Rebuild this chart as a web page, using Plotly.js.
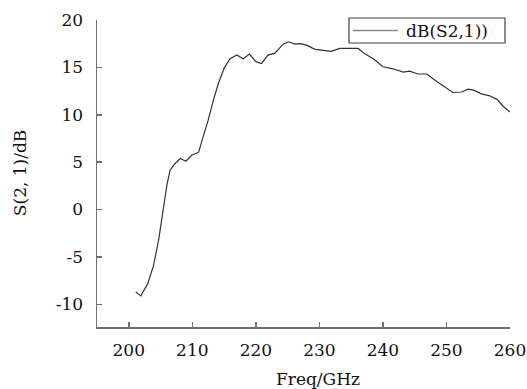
<!DOCTYPE html>
<html>
<head>
<meta charset="utf-8">
<script src="https://cdn.plot.ly/plotly-3.0.1.min.js"></script>
<style>
html,body{margin:0;padding:0;background:#fff;}
#chart{width:527px;height:389px;}
</style>
</head>
<body>
<div id="chart"></div>
<script>
const freq = [201.1, 201.9, 203.0, 203.9, 204.7, 205.3, 206.0, 206.5, 207.2, 208.1, 209.0, 209.9, 211.0, 211.7, 212.5, 213.3, 214.1, 215.0, 215.9, 217.0, 218.0, 219.0, 220.0, 220.9, 221.9, 223.0, 224.3, 225.2, 226.1, 227.0, 228.0, 229.3, 230.6, 231.9, 233.2, 234.8, 236.1, 237.2, 238.5, 240.0, 241.6, 243.2, 244.2, 245.5, 246.9, 248.2, 249.7, 251.0, 252.4, 253.4, 254.3, 255.5, 256.8, 258.0, 258.9, 260.0];
const s21 = [-8.7, -9.12, -7.8, -5.9, -3.24, -0.4, 2.57, 4.15, 4.78, 5.38, 5.1, 5.73, 6.05, 7.67, 9.43, 11.5, 13.3, 14.9, 15.9, 16.3, 15.9, 16.4, 15.6, 15.4, 16.3, 16.5, 17.45, 17.7, 17.45, 17.5, 17.35, 16.9, 16.8, 16.7, 17.0, 17.0, 17.0, 16.4, 15.9, 15.06, 14.85, 14.5, 14.6, 14.3, 14.3, 13.65, 12.9, 12.35, 12.4, 12.7, 12.6, 12.2, 12.0, 11.6, 10.9, 10.3];
const xTicks = [200, 210, 220, 230, 240, 250, 260];
const yTicks = [-10, -5, 0, 5, 10, 15, 20];
const yTickText = ["-10", "-5", "0", "5", "10", "15", "20"];
const seriesName = "dB(S2,1))";
const xTitle = "Freq/GHz";
const yTitle = "S(2, 1)/dB";

const font = "DejaVu Serif";
const axisColor = "#707070";

const trace = {
  x: freq, y: s21, type: "scatter", mode: "lines",
  line: {color: "#333333", width: 1.2},
  name: seriesName, showlegend: false, hoverinfo: "skip"
};

const layout = {
  width: 527, height: 389,
  margin: {l: 97, r: 17, t: 20, b: 62, pad: 0},
  paper_bgcolor: "#ffffff", plot_bgcolor: "#ffffff",
  font: {family: font, size: 17, color: "#111"},
  xaxis: {
    range: [195, 260], tickvals: xTicks, ticks: "inside", ticklen: 5,
    tickcolor: axisColor, tickwidth: 1.5, showline: true, linecolor: axisColor, linewidth: 1.5,
    showgrid: false, zeroline: false, ticklabelstandoff: 7,
    tickfont: {family: font, size: 17, color: "#111"}
  },
  yaxis: {
    range: [-12.4, 20], tickvals: yTicks, ticktext: yTickText, ticks: "inside", ticklen: 5,
    tickcolor: axisColor, tickwidth: 1.5, showline: true, linecolor: axisColor, linewidth: 1.5,
    showgrid: false, zeroline: false, ticklabelstandoff: 9,
    tickfont: {family: font, size: 17, color: "#111"}
  },
  shapes: [
    {type: "rect", xref: "paper", yref: "paper", x0: (349-97)/413, x1: (505-97)/413,
     y0: (326.7-43)/306.7, y1: (326.7-18)/306.7, line: {color: "#404040", width: 1.2}, fillcolor: "rgba(255,255,255,0)"},
    {type: "line", xref: "paper", yref: "paper", x0: (353-97)/413, x1: (398-97)/413,
     y0: (326.7-30.5)/306.7, y1: (326.7-30.5)/306.7, line: {color: "#888888", width: 1.3}}
  ],
  annotations: [
    {text: seriesName, xref: "paper", yref: "paper", x: (404-97)/413, y: (326.7-30.5)/306.7,
     xanchor: "left", yanchor: "middle", showarrow: false, font: {family: font, size: 17, color: "#111"}},
    {text: xTitle, xref: "paper", yref: "paper", x: (318-97)/413, y: (326.7-379)/306.7,
     xanchor: "center", yanchor: "middle", showarrow: false, font: {family: font, size: 17, color: "#111"}},
    {text: yTitle, xref: "paper", yref: "paper", x: (20-97)/413, y: (326.7-173)/306.7,
     xanchor: "center", yanchor: "middle", textangle: -90, showarrow: false, font: {family: font, size: 17, color: "#111"}}
  ]
};

Plotly.newPlot("chart", [trace], layout, {displayModeBar: false, staticPlot: true});
</script>
</body>
</html>
